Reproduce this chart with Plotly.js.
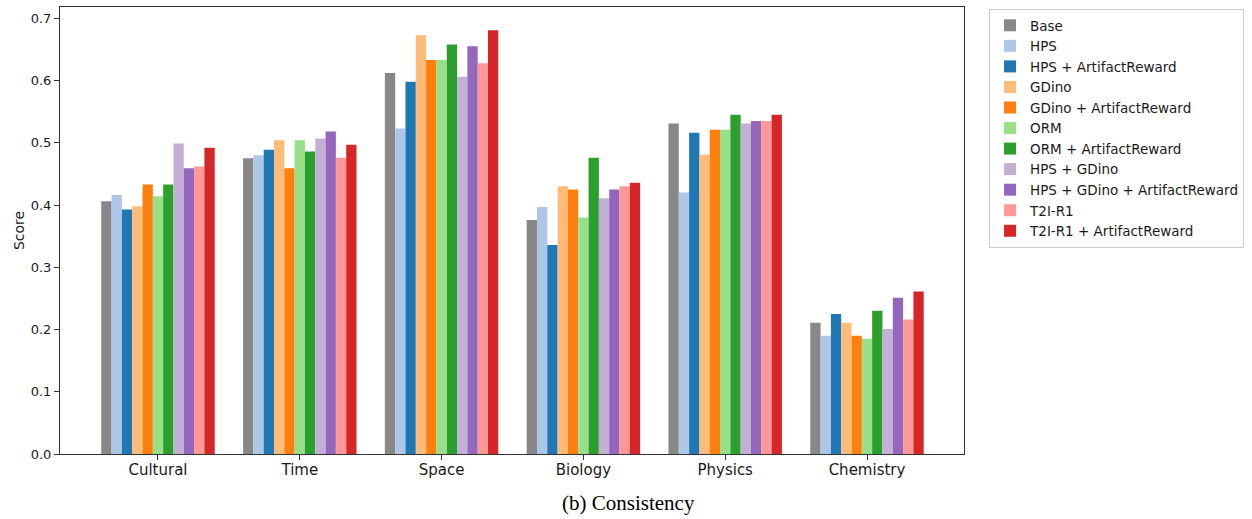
<!DOCTYPE html>
<html>
<head>
<meta charset="utf-8">
<script src="https://cdn.plot.ly/plotly-3.0.1.min.js"></script>
<style>
  html, body { margin: 0; padding: 0; background: #ffffff; }
  #chart { width: 1252px; height: 519px; }
</style>
</head>
<body>
<div id="chart"></div>
<script>
const categories = ["Cultural", "Time", "Space", "Biology", "Physics", "Chemistry"];
const seriesNames = ["Base", "HPS", "HPS + ArtifactReward", "GDino", "GDino + ArtifactReward", "ORM",
  "ORM + ArtifactReward", "HPS + GDino", "HPS + GDino + ArtifactReward", "T2I-R1", "T2I-R1 + ArtifactReward"];

const base          = [0.406, 0.475, 0.612, 0.376, 0.531, 0.211];
const hps           = [0.416, 0.480, 0.523, 0.397, 0.420, 0.190];
const hpsAR         = [0.393, 0.489, 0.598, 0.336, 0.516, 0.225];
const gdino         = [0.398, 0.504, 0.673, 0.430, 0.481, 0.211];
const gdinoAR       = [0.433, 0.459, 0.633, 0.425, 0.521, 0.190];
const orm           = [0.414, 0.504, 0.633, 0.380, 0.521, 0.185];
const ormAR         = [0.433, 0.486, 0.658, 0.476, 0.545, 0.230];
const hpsGdino      = [0.499, 0.507, 0.606, 0.411, 0.531, 0.201];
const hpsGdinoAR    = [0.459, 0.518, 0.655, 0.425, 0.535, 0.251];
const t2i           = [0.462, 0.476, 0.628, 0.430, 0.535, 0.216];
const t2iAR         = [0.492, 0.497, 0.681, 0.436, 0.545, 0.261];

const seriesValues = [base, hps, hpsAR, gdino, gdinoAR, orm, ormAR, hpsGdino, hpsGdinoAR, t2i, t2iAR];
const colors = ["#888888", "#aec7e8", "#1f77b4", "#ffbb78", "#ff7f0e", "#98df8a",
  "#2ca02c", "#c5b0d5", "#9467bd", "#ff9896", "#d62728"];

const xIdx = categories.map((c, i) => i);

const traces = seriesNames.map((name, k) => ({
  type: "bar",
  name: name,
  x: xIdx,
  y: seriesValues[k],
  marker: { color: colors[k], line: { width: 0 } },
  hoverinfo: "skip"
}));

const font = "DejaVu Sans, sans-serif";

const layout = {
  width: 1252,
  height: 519,
  margin: { l: 60, r: 288, t: 7, b: 65, pad: 0 },
  paper_bgcolor: "#ffffff",
  plot_bgcolor: "#ffffff",
  barmode: "group",
  bargap: 0.2,
  bargroupgap: 0,
  showlegend: true,
  font: { family: font, size: 13, color: "#1a1a1a" },
  xaxis: {
    range: [-0.691, 5.684],
    tickmode: "array",
    tickvals: xIdx,
    ticktext: categories,
    tickfont: { family: font, size: 15, color: "#1a1a1a" },
    ticks: "outside",
    ticklen: 5,
    tickwidth: 1,
    tickcolor: "#333",
    ticklabelstandoff: -3,
    showline: true,
    linecolor: "#333",
    linewidth: 1,
    mirror: true,
    showgrid: false,
    zeroline: false,
    fixedrange: true
  },
  yaxis: {
    range: [0, 0.7182],
    tickmode: "array",
    tickvals: [0, 0.1, 0.2, 0.3, 0.4, 0.5, 0.6, 0.7],
    ticktext: ["0.0", "0.1", "0.2", "0.3", "0.4", "0.5", "0.6", "0.7"],
    tickfont: { family: font, size: 13, color: "#1a1a1a" },
    ticks: "outside",
    ticklen: 5,
    tickwidth: 1,
    tickcolor: "#333",
    showline: true,
    linecolor: "#333",
    linewidth: 1,
    mirror: true,
    showgrid: false,
    zeroline: false,
    title: { text: "Score", font: { family: font, size: 14, color: "#1a1a1a" }, standoff: 2 },
    fixedrange: true
  },
  legend: {
    x: 1.0277,
    xanchor: "left",
    y: 0.9955,
    yanchor: "top",
    bgcolor: "#ffffff",
    bordercolor: "#cccccc",
    borderwidth: 1,
    font: { family: font, size: 13.5, color: "#1a1a1a" },
    traceorder: "normal",
    itemclick: false,
    itemdoubleclick: false
  },
  annotations: [{
    text: "(b) Consistency",
    xref: "paper",
    yref: "paper",
    x: 0.6289,
    y: -0.1096,
    xanchor: "center",
    yanchor: "middle",
    showarrow: false,
    font: { family: "Liberation Serif, Times New Roman, serif", size: 21, color: "#000000" }
  }]
};

Plotly.newPlot("chart", traces, layout, { staticPlot: true, displayModeBar: false });
</script>
</body>
</html>
